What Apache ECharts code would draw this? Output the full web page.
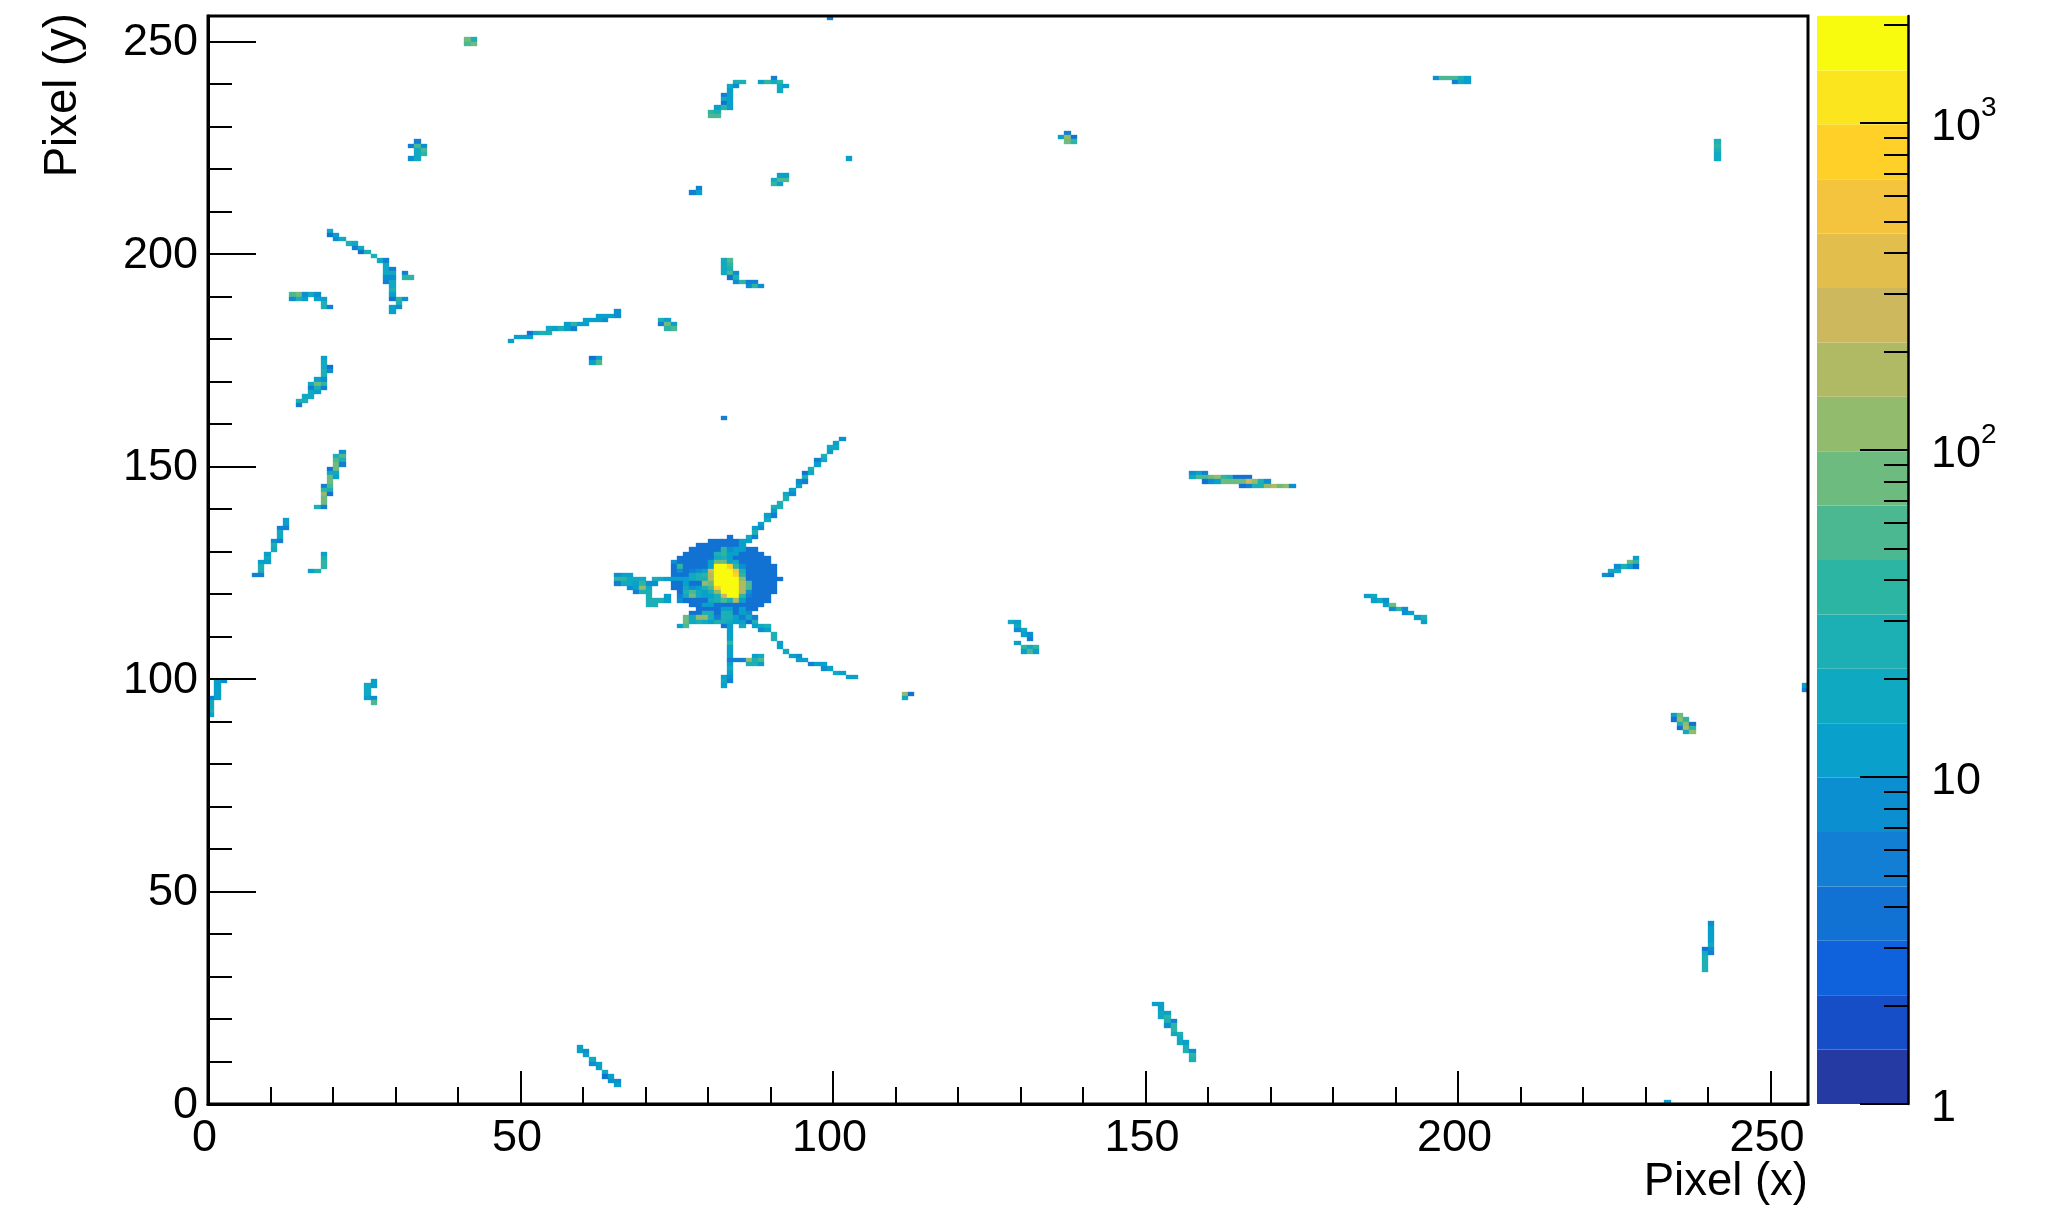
<!DOCTYPE html>
<html><head><meta charset="utf-8">
<style>html,body{margin:0;padding:0;background:#fff}#c{width:2049px;height:1211px}</style>
<script src="https://cdn.jsdelivr.net/npm/echarts@6/dist/echarts.min.js"></script>
</head><body><div id="c"></div>
<script>
// Axis titles and ticks
const xTitle = 'Pixel (x)';
const yTitle = 'Pixel (y)';
const pixelMajorTicks = [0,50,100,150,200,250];
const pixelMinorTicks = [0,10,20,30,40,50,60,70,80,90,100,110,120,130,140,150,160,170,180,190,200,210,220,230,240,250];
const paletteMajorTicks = [1,10,100,1000];
const paletteMinorTicks = [2,3,4,5,6,7,8,9,20,30,40,50,60,70,80,90,200,300,400,500,600,700,800,900,2000];
const paletteExponentTicks = [100,1000];
const paletteMax = 2123;
const levelColors = ['#263AA4','#154EC6','#0F62DC','#1272D4','#127FD4','#0C8FD0','#09A0CB','#10A9C2','#1CB0B4','#2DB5A4','#4CB892','#6EBB80','#92BB6E','#B0BA64','#CDB85E','#E2BE4D','#F4C43E','#FFD128','#FBE51F','#F9FB0F'];

// Every row below: [y, first x, value at first x, value at next x, ...]
// Low-level halo around the central spot: [y, first x, last x]
const haloSpans = [[133,83,83],[132,80,84],[131,78,84],[130,77,87],[129,76,88],[128,75,89],[127,74,89],[126,74,90],[125,74,90],[124,74,90],[123,74,91],[122,74,90],[121,74,90],[120,75,90],[119,75,89],[118,75,89],[117,77,88],[116,78,87],[115,77,86]];
const haloLevel = 4;
const coreRows = [
[132,85,12,12],[131,85,12],
[130,82,38,8,12,12],
[129,81,30,38,14,14],
[128,81,18,26,14],
[127,74,8],[127,80,10,90,90,14,18],
[126,75,40],[126,80,14,1500,1500,700,38,8],
[125,75,7],[125,77,6,8,14],[125,80,250,2100,2100,2100,500,30],
[124,77,20,26,38,200,2100,2100,2100,800,45],
[123,71,22,18,12,12,14,14,20,22,26,200,2100,2100,2100,2100,120],
[122,76,14],[122,79,100,90,2100,2100,2100,2100,200,60],
[121,76,18,8,14,26,60,700,2100,2100,2100,200,60],
[120,76,26,60,20,10,30,100,2100,2100,2100,180,8],
[119,75,6,18,90,20,14,12,30,250,2100,2100,40,6],
[118,75,8],[118,80,20,22,60,30,150,14],
[117,79,10,14],
[116,82,12,12],[116,85,14],
[115,79,26,26],[115,82,26,26],[115,85,12,8]
];
const upperJet = [[156,101,9],[155,100,14],[154,99,20,18],[153,99,14],[152,98,26],[151,97,6,16],[150,97,11],[149,96,22],[148,95,4.5,18],[147,95,30],[146,94,8,5.5],[145,94,14],[144,93,10],[143,92,18,8],[142,92,30],[141,91,26],[140,90,22,26],[139,90,14],[138,89,12,6],[137,89,15],[136,88,10],[135,87,12,7],[134,87,26],[133,86,16,5]];
const leftJet = [[124,65,8,14,14],[123,65,38,38,20,16,20],[122,65,6,18,20,14,40,8,8],[121,67,9,14,110,20],[120,68,5,25,22],[119,70,25],[119,73,10],[118,70,25,22,22,10],[117,70,25,22]];
const lowerJet = [
[114,76,80,18,120,120,22,5,25,25,10,5,15,5],
[113,76,85,15,30,15,12,26,26,20,12,10,4,26],
[112,75,10,50],[112,82,4,10],[112,85,18],[112,87,12,18,26],
[111,83,12],[111,88,9,10],[110,83,12],[110,90,26],[109,83,12],[109,90,26],[108,83,45],[108,91,10],[107,83,12],[107,91,14],[106,83,10],[106,92,15],
[105,83,10],[105,87,10,15],[105,93,14,7],
[104,83,6,6,6,120,30,50],[104,94,10,14],
[103,83,12],[103,86,26,26,12],[103,96,6,12,14],
[102,83,20],[102,98,9,14],[101,83,14],[101,100,18,14],[100,82,10,7],[100,102,12,12],[99,82,15,5],[98,82,10]
];
const topLeftTrack = [[205,19,20],[204,19,4,10],[203,20,7,15],[202,22,22,15],[201,23,6,15],[200,24,4,26],[199,26,22],[198,27,15,6],[197,28,18],[196,28,20,6],[195,28,18,20],[195,31,5.5],[194,28,7,7],[194,31,45,38],[193,28,6,15],[192,29,15],[191,29,26],[190,29,10],[189,29,4,38,7],[188,30,30],[187,29,10,7],[186,29,10]];
const shortArc = [[190,13,56,82,7,18,9],[189,13,9,30,12],[189,17,12,12],[188,18,30],[187,18,26,6]];
const lowerLeftTrack = [[175,18,10],[174,18,20],[173,18,18,4.5],[172,18,26,8],[171,18,30],[170,17,10,8],[169,16,20,75,45],[168,16,5.5,26,6],[167,16,18,12],[166,15,18,15],[165,14,26,26],[164,14,5.5]];
const longTrack = [[179,48,10],[180,49,12,12,12],[181,51,4.5,18,22,22],[182,54,20,12,26,10,5],[183,57,10,45,10,10],[184,60,14,12,10,7],[185,62,12,14,12,7],[186,65,7]];
const smallBlobs = [[175,61,4,14],[174,61,10,50],[184,72,24,12],[183,72,5,70,10],[182,73,45,50],[161,82,6],[250,41,82,26],[249,41,50,80],[255,99,6],[222,102,12]];
const topCluster = [[241,90,6],[240,84,26,26],[240,88,12,38,18,38],[239,83,15,8],[239,91,18,12],[238,83,12],[238,91,18],[237,82,6,10],[236,82,15,10],[235,82,4.5,12],[234,81,12,38,12],[233,80,38,26],[232,80,56,56]];
const upperMidBits = [[218,91,12,12],[217,90,15,50,50],[216,90,38,10],[215,78,5.5],[214,77,6,10],[226,33,6],[225,32,6,60,7],[224,33,15,50],[223,33,18,38],[222,32,9,20]];
const hookTrack = [[198,82,18,50],[197,82,18,38],[196,82,18,30],[195,82,15,56,7],[194,83,4,26],[193,84,8,38,6,6],[192,86,8,45,7]];
const midLeftTrack = [[153,21,7],[152,20,22,56],[151,20,50,26],[150,20,75,6.5],[149,19,4,80],[148,19,18,20],[147,19,75,12],[146,19,80],[145,18,5.5,60],[144,18,38,30],[143,18,130,4],[142,18,80],[141,18,75],[140,17,26,6.5]];
const farLeftTrack = [[137,12,12],[136,12,10],[135,11,6,6.5],[134,11,15],[133,11,15],[132,10,8,6],[131,10,26],[130,10,15],[129,9,10],[128,9,18],[127,8,12,12],[126,8,22],[125,8,22],[124,7,5.5,5]];
const leftHook = [[129,18,10],[128,18,26],[127,18,38],[126,18,38],[125,16,10,30]];
const edgeTrack = [[99,1,12,8],[98,1,12],[97,1,12],[96,1,12],[95,0,6,10],[94,0,15],[93,0,18],[92,0,26],[91,0,10]];
const cornerHook = [[99,26,12],[98,25,15,12],[97,25,20],[96,25,15],[95,25,10,8],[94,26,55]];
const upperRightBits = [[228,137,6],[227,136,10,130,4],[226,137,85,45],[241,196,7,50,50,50,22,10],[240,199,6,20,12],[226,241,22],[225,241,40],[224,241,22],[223,241,20],[222,241,20]];
const wideTrack = [[148,157,7,12,5],[147,157,20,60,60,80,110,40,26,4,4,4],[146,159,4,8,14,70,80,80,90,230,130,26,7],[145,165,4,5,26,30,100,150,80,110,7]];
const midRightTrack = [[119,185,12,20],[118,186,11,18,7],[117,188,12,85],[116,189,7,38,7],[115,191,7,12],[114,193,14,22],[113,194,12]];
const rightTrack = [[128,228,10],[127,227,80,38],[126,225,7,30,12,4.5],[125,224,20,18],[124,223,7,6]];
const rightEdgeBits = [[98,255,12],[97,255,5]];
const rightCluster = [[91,234,10,80],[90,234,4,140,38],[89,235,30,130,4],[88,235,4.5,200,38],[87,236,20,130]];
const centreRightBits = [[113,128,15,10],[112,129,18],[111,129,9,20],[110,130,12,9],[109,131,6],[108,129,12],[107,130,45,18,45],[106,130,12,60,12],[96,111,100,4],[95,111,18]];
const bottomTracks = [
[13,59,10],[12,59,10,8],[11,60,14],[10,61,15],[9,61,8,10],[8,62,10],[7,63,15],[6,63,4,10],[5,64,8,7],[4,65,10],
[23,151,14,14],[22,152,14],[21,152,18,10],[20,152,18,38],[19,153,26,6],[18,153,9,38],[17,154,38],[16,154,18,26],[15,155,20],[14,155,15,10],[13,156,26],[12,156,30,8],[11,157,45],[10,157,26],
[0,233,12]
];
const bottomRightTrack = [[42,240,9],[41,240,12],[40,240,12],[39,240,12],[38,240,12],[37,240,18],[36,239,4,8],[35,239,18,6],[34,239,26],[33,239,30],[32,239,22],[31,239,26]];

const allRows = [coreRows,upperJet,leftJet,lowerJet,topLeftTrack,shortArc,lowerLeftTrack,longTrack,smallBlobs,topCluster,upperMidBits,hookTrack,midLeftTrack,farLeftTrack,leftHook,edgeTrack,cornerHook,upperRightBits,wideTrack,midRightTrack,rightTrack,rightEdgeBits,rightCluster,centreRightBits,bottomTracks,bottomRightTrack];

const cellMap = new Map();
haloSpans.forEach(([y,a,b]) => { for (let x=a;x<=b;x++) cellMap.set(x+','+y,[x,y,haloLevel]); });
allRows.forEach(group => group.forEach(row => {
  const y=row[0], x0=row[1];
  row.slice(2).forEach((v,i)=>cellMap.set((x0+i)+','+y,[x0+i,y,v]));
}));
const cells = Array.from(cellMap.values());

const maxLog = Math.log10(paletteMax);
const nLevels = levelColors.length;
const levelOf = v => Math.max(0,Math.min(nLevels-1,Math.floor(Math.log10(v)/maxLog*nLevels)));
const bandData = levelColors.map((c,i)=>[i]);

const FONT = '"Liberation Sans", Arial, sans-serif';
const FS = 45;
const line = w => ({show:true,onZero:false,lineStyle:{color:'#000',width:w}});
const noLine = {show:false,onZero:false};
const richT = {t:{fontSize:FS,fontFamily:FONT,color:'#000'}};
const richE = {t:{fontSize:28,fontFamily:FONT,color:'#000'}};
const chart = echarts.init(document.getElementById('c'),null,{renderer:'canvas'});

chart.setOption({
  animation:false,
  backgroundColor:'#fff',
  textStyle:{fontFamily:FONT},
  grid:[
    {left:208,top:16,width:1600,height:1088,show:true,borderColor:'#000',borderWidth:3,backgroundColor:'transparent',z:3,containLabel:false},
    {left:1817,top:16,width:91,height:1088,show:false,containLabel:false},
    {left:1817,top:16,width:91,height:1088,show:false,containLabel:false},
    {left:208,top:16,width:1600,height:1088,show:false,containLabel:false}
  ],
  xAxis:[
    {type:'value',gridIndex:0,min:0,max:256,interval:50,z:4,splitLine:{show:false},axisLine:line(3),
     axisTick:{show:true,inside:true,length:33,lineStyle:{color:'#000',width:2},customValues:pixelMajorTicks},
     axisLabel:{show:true,color:'#000',fontSize:FS,fontFamily:FONT,margin:12,padding:[0,7,0,0],customValues:pixelMajorTicks,hideOverlap:false,
       formatter:v=>'{t|'+v+'}',rich:richT}},
    {type:'value',gridIndex:3,min:0,max:256,interval:50,z:4,splitLine:{show:false},axisLine:noLine,
     axisTick:{show:true,inside:true,length:17,lineStyle:{color:'#000',width:2},customValues:pixelMinorTicks},
     axisLabel:{show:false}},
    {type:'value',gridIndex:1,min:0,max:1,show:false},
    {type:'value',gridIndex:2,min:0,max:1,show:false}
  ],
  yAxis:[
    {type:'value',gridIndex:0,min:0,max:256,interval:50,z:4,splitLine:{show:false},axisLine:line(3),
     axisTick:{show:true,inside:true,length:48,lineStyle:{color:'#000',width:2},customValues:pixelMajorTicks},
     axisLabel:{show:true,color:'#000',fontSize:FS,fontFamily:FONT,margin:10,padding:[3,0,0,0],customValues:pixelMajorTicks,hideOverlap:false,
       formatter:v=>'{t|'+v+'}',rich:richT}},
    {type:'value',gridIndex:3,min:0,max:256,interval:50,z:4,splitLine:{show:false},axisLine:noLine,
     axisTick:{show:true,inside:true,length:24,lineStyle:{color:'#000',width:2},customValues:pixelMinorTicks},
     axisLabel:{show:false}},
    {type:'value',gridIndex:1,position:'right',min:0,max:maxLog,z:4,splitLine:{show:false},axisLine:line(2.5),
     axisTick:{show:true,inside:true,length:48,lineStyle:{color:'#000',width:2},customValues:paletteMajorTicks.map(Math.log10)},
     axisLabel:{show:true,color:'#000',fontFamily:FONT,fontSize:FS,margin:23,padding:[10,0,0,0],hideOverlap:false,
       customValues:paletteMajorTicks.map(Math.log10),
       formatter:v=>Math.round(v)===0?'{t|1}':'{t|10}',rich:richT}},
    {type:'value',gridIndex:2,position:'right',min:0,max:maxLog,z:4,splitLine:{show:false},axisLine:noLine,
     axisTick:{show:true,inside:true,length:24,lineStyle:{color:'#000',width:2},customValues:paletteMinorTicks.map(Math.log10)},
     axisLabel:{show:true,color:'#000',fontFamily:FONT,fontSize:28,margin:73,padding:[0,0,30,0],hideOverlap:false,
       customValues:paletteExponentTicks.map(Math.log10),
       formatter:v=>'{t|'+Math.round(v)+'}',rich:richE}}
  ],
  series:[
    {type:'custom',xAxisIndex:0,yAxisIndex:0,coordinateSystem:'cartesian2d',clip:true,silent:true,z:2,progressive:0,
     dimensions:['x','y','value'],encode:{x:0,y:1},data:cells,
     renderItem:(p,api)=>{
       const x=api.value(0),y=api.value(1),v=api.value(2);
       const a=api.coord([x,y+1]),b=api.coord([x+1,y]);
       const x0=Math.round(a[0]),y0=Math.round(a[1]),x1=Math.round(b[0]),y1=Math.round(b[1]);
       const c=levelColors[levelOf(v)];
       return {type:'rect',shape:{x:x0,y:y0,width:x1-x0,height:y1-y0},style:{fill:c,stroke:c+'59',lineWidth:1}};
     }},
    {type:'custom',xAxisIndex:2,yAxisIndex:2,coordinateSystem:'cartesian2d',clip:false,silent:true,z:2,progressive:0,
     data:bandData,encode:{y:0},
     renderItem:(p,api)=>{
       const i=api.value(0);
       const a=api.coord([0,(i+1)*maxLog/nLevels]),b=api.coord([1,i*maxLog/nLevels]);
       return {type:'rect',shape:{x:a[0],y:a[1],width:b[0]-a[0],height:b[1]-a[1]},style:{fill:levelColors[i]}};
     }}
  ],
  graphic:[
    {type:'text',x:1808,y:1182,z:10,style:{text:xTitle,fontSize:45.5,fontFamily:FONT,fill:'#000',align:'right',verticalAlign:'middle'}},
    {type:'text',x:63,y:13,rotation:Math.PI/2,z:10,style:{text:yTitle,fontSize:45.5,fontFamily:FONT,fill:'#000',align:'right',verticalAlign:'middle'}}
  ]
});
</script></body></html>
